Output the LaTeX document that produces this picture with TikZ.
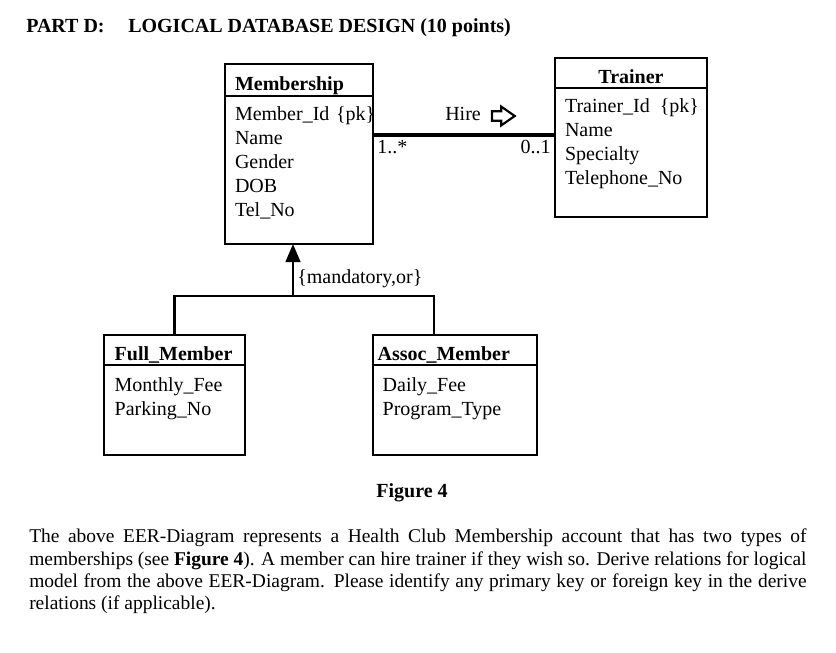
\documentclass[tikz,border=0pt]{standalone}
\usepackage{fontspec}
\setmainfont{Liberation Serif}
\usepackage{tikz}
\usetikzlibrary{
  arrows.meta,
  positioning,
  shapes.arrows
}

\begin{document}
\begin{tikzpicture}[
  x=0.75pt,
  y=-0.75pt,
  font=\fontsize{15pt}{18pt}\selectfont,
  clsbox/.style={
    draw,
    line width=1.4pt,
    inner xsep=7.5pt,
    inner ysep=0pt,
    outer sep=0pt,
    anchor=north west,
    align=left
  },
  clshead/.style={clsbox,font=\fontsize{15pt}{18pt}\selectfont\bfseries},
  clsbody/.style={clsbox,inner ysep=6pt,text height=12pt},
  genline/.style={line width=1.7pt},
  hireline/.style={line width=2.6pt},
  label/.style={inner sep=0pt,anchor=base west},
  bodytext/.style={inner sep=0pt,anchor=north west,align=left,
    font=\fontsize{14.6pt}{16.6pt}\selectfont}
]
\useasboundingbox (0,0) rectangle (836,653);

% heading
\node[label,font=\fontsize{15pt}{18pt}\selectfont\bfseries] (part) at (26,32) {PART D:};
\node[label,font=\fontsize{15pt}{18pt}\selectfont\bfseries] (heading) at (128,32)
  {LOGICAL DATABASE DESIGN (10 points)};

% classes
\node[clshead,text width=96pt,text height=19.5pt,text depth=4.5pt] (memh) at (225,64)
  {Membership};
\node[clsbody,text width=96pt,text depth=87pt,below=0pt of memh] (memb)
  {Member\_Id~\{pk\}\\Name\\Gender\\DOB\\Tel\_No};

\node[clshead,align=center,text width=99pt,text height=18.75pt,text depth=3.75pt] (trh)
  at (555,58) {Trainer};
\node[clsbody,text width=99pt,text depth=72.75pt,below=0pt of trh] (trb)
  {Trainer\_Id~\,\{pk\}\\Name\\Specialty\\Telephone\_No};

\node[clshead,inner xsep=8pt,text width=89.75pt,text height=18.75pt,text depth=3.75pt]
  (fmh) at (104,335) {Full\_Member};
\node[clsbody,inner xsep=8pt,text width=89.75pt,text height=13.5pt,text depth=42pt,
  below=0pt of fmh] (fmb) {Monthly\_Fee\\Parking\_No};

\node[clshead,inner xsep=3.75pt,text width=115.5pt,text height=18.75pt,text depth=3.75pt]
  (amh) at (372.7,335) {Assoc\_Member};
\node[clsbody,text width=108pt,text height=13.5pt,text depth=42pt,
  below=0pt of amh] (amb) {Daily\_Fee\\Program\_Type};

% association
\coordinate (hirey) at (0,135);
\draw[hireline] (memb.east |- hirey) -- (trb.west |- hirey);
\node[label] (many) at (377,153) {1..*};
\node[label,anchor=base east] (one) at (551,153) {0..1};
\node[label] (hire) at (445,120) {Hire};
\node[single arrow,draw,line width=1.6pt,inner sep=0pt,text height=5.5pt,text depth=0pt,
  minimum height=17pt,single arrow head extend=3.5pt,single arrow tip angle=70]
  (hirearrow) at (500,116) {};

% generalization
\coordinate (gsplit) at (293,296);
\coordinate (gright) at (434,296);
\draw[genline] (fmh.north) |- (gright) -- (gright |- amh.north);
\draw[genline,-{Triangle[length=13.5pt,width=11pt]}] (gsplit) -- (gsplit |- memb.south);
\node[label] (constraint) at (297,283) {\{mandatory,or\}};

% caption and question
\node[label,anchor=base,font=\fontsize{15pt}{18pt}\selectfont\bfseries] (caption)
  at (412,497) {Figure 4};
\node[bodytext] (question) at (29,529)
  {\makebox[583pt][s]{The above EER-Diagram represents a Health Club Membership account that has two types of}\\
   \makebox[583pt][s]{memberships (see \textbf{Figure 4}). A member can hire trainer if they wish so. Derive relations for logical}\\
   \makebox[583pt][s]{model from the above EER-Diagram. Please identify any primary key or foreign key in the derive}\\
   relations (if applicable).};
\end{tikzpicture}
\end{document}
